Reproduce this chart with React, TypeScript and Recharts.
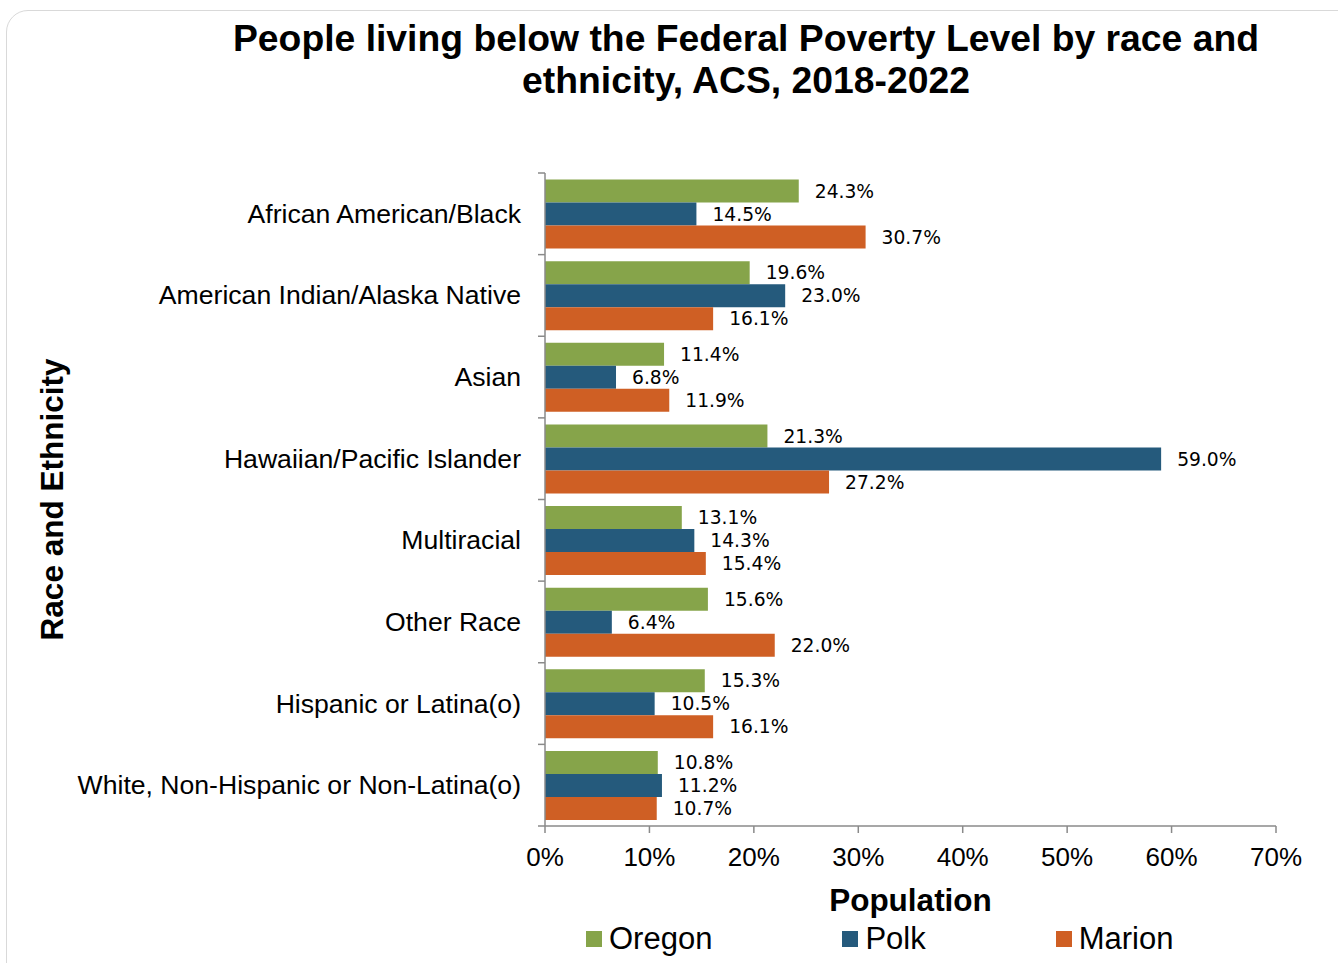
import { BarChart, Bar, XAxis, YAxis, LabelList } from "recharts";

// Poverty rates (%) by race/ethnicity, ACS 2018-2022
const categories = [
  "African American/Black",
  "American Indian/Alaska Native",
  "Asian",
  "Hawaiian/Pacific Islander",
  "Multiracial",
  "Other Race",
  "Hispanic or Latina(o)",
  "White, Non-Hispanic or Non-Latina(o)",
];
const oregon = [24.3, 19.6, 11.4, 21.3, 13.1, 15.6, 15.3, 10.8];
const polk = [14.5, 23.0, 6.8, 59.0, 14.3, 6.4, 10.5, 11.2];
const marion = [30.7, 16.1, 11.9, 27.2, 15.4, 22.0, 16.1, 10.7];
const xTicks = [0, 10, 20, 30, 40, 50, 60, 70];

const series = [
  { key: "oregon", name: "Oregon", color: "#86a44a" },
  { key: "polk", name: "Polk", color: "#255a7c" },
  { key: "marion", name: "Marion", color: "#cf5f24" },
];

const data = categories.map((name, i) => ({
  name,
  oregon: oregon[i],
  polk: polk[i],
  marion: marion[i],
}));

const ARIAL = '"Liberation Sans", Arial, sans-serif';
const AXIS_X = 545;
const AXIS_GREY = "#8a8a8a";

const CategoryTick = (props: any) => {
  const { y, payload, index } = props;
  const half = payload?.offset || 41;
  const last = index === categories.length - 1;
  return (
    <g>
      <line x1={AXIS_X - 7} x2={AXIS_X} y1={y - half} y2={y - half} stroke={AXIS_GREY} strokeWidth={1.5} />
      {last && (
        <line x1={AXIS_X - 7} x2={AXIS_X} y1={y + half} y2={y + half} stroke={AXIS_GREY} strokeWidth={1.5} />
      )}
      <text x={AXIS_X - 24} y={y} textAnchor="end" dominantBaseline="central" fontFamily={ARIAL} fontSize={26.6} fill="#000">
        {payload.value}
      </text>
    </g>
  );
};

export default function App() {
  return (
    <div
      style={{
        position: "absolute",
        left: 0,
        top: 0,
        width: 1338,
        height: 963,
        overflow: "hidden",
        background: "#fff",
      }}
    >
      <div
        style={{
          position: "absolute",
          left: 6,
          top: 10,
          width: 1400,
          height: 1100,
          border: "1.5px solid #d9d9d9",
          borderRadius: 22,
        }}
      />
      <div
        style={{
          position: "absolute",
          left: 146,
          top: 17,
          width: 1200,
          textAlign: "center",
          fontFamily: ARIAL,
          fontWeight: "bold",
          fontSize: 37.3,
          lineHeight: "42px",
          color: "#000",
        }}
      >
        People living below the Federal Poverty Level by race and
        <br />
        ethnicity, ACS, 2018-2022
      </div>

      <div style={{ position: "absolute", left: 0, top: 0 }}>
        <BarChart
          width={1338}
          height={963}
          data={data}
          layout="vertical"
          margin={{ top: 173, right: 62, bottom: 37, left: 45 }}
          barCategoryGap="8%"
          barGap={0}
        >
          <XAxis
            type="number"
            domain={[0, 70]}
            ticks={xTicks}
            interval={0}
            tickFormatter={(v) => `${v}%`}
            tickSize={7}
            tickMargin={15}
            height={100}
            axisLine={{ stroke: AXIS_GREY, strokeWidth: 1.5 }}
            tickLine={{ stroke: AXIS_GREY, strokeWidth: 1.5 }}
            tick={{ fill: "#000", fontSize: 26, fontFamily: ARIAL }}
            label={{
              value: "Population",
              position: "insideBottom",
              offset: 15,
              fill: "#000",
              style: { fontFamily: ARIAL, fontWeight: "bold", fontSize: 31.5 },
            }}
          />
          <YAxis
            type="category"
            dataKey="name"
            width={500}
            tickLine={false}
            axisLine={{ stroke: AXIS_GREY, strokeWidth: 1.5 }}
            tick={<CategoryTick />}
            interval={0}
            label={{
              value: "Race and Ethnicity",
              angle: -90,
              position: "insideLeft",
              offset: 7,
              fill: "#000",
              style: { fontFamily: ARIAL, fontWeight: "bold", fontSize: 31.5, textAnchor: "middle" },
            }}
          />
          {series.map((s) => (
            <Bar key={s.key} dataKey={s.key} name={s.name} fill={s.color} isAnimationActive={false}>
              <LabelList
                dataKey={s.key}
                position="right"
                offset={16}
                fill="#000"
                formatter={(v: any) => `${Number(v).toFixed(1)}%`}
                style={{ fontFamily: '"DejaVu Sans", sans-serif', fontSize: 18.7 }}
              />
            </Bar>
          ))}
        </BarChart>
      </div>

      <div
        style={{
          position: "absolute",
          left: 586,
          top: 921,
          display: "flex",
          alignItems: "center",
          gap: 130,
          fontFamily: ARIAL,
          fontSize: 31,
          lineHeight: "35px",
          color: "#000",
        }}
      >
        {series.map((s) => (
          <div key={s.key} style={{ display: "flex", alignItems: "center" }}>
            <span style={{ width: 16, height: 16, background: s.color, marginRight: 7, display: "inline-block" }} />
            <span>{s.name}</span>
          </div>
        ))}
      </div>
    </div>
  );
}
